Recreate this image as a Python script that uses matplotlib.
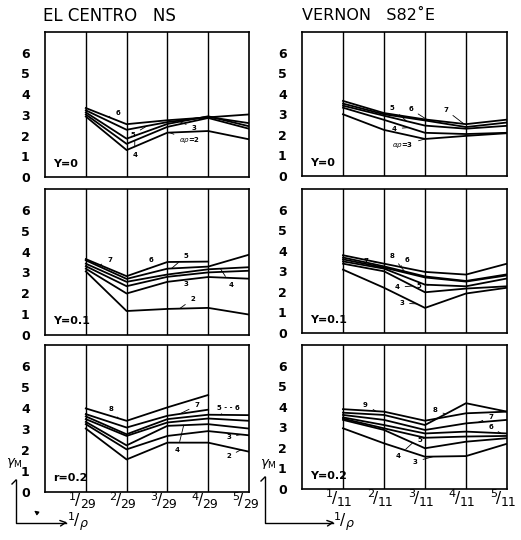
import numpy as np
import matplotlib
matplotlib.use("Agg")
import matplotlib.pyplot as plt

# periodos relativos 1/rho
x_pos = [1, 2, 3, 4, 5]
num_etiq = ['1', '2', '3', '4', '5']
den_centro = '29'
den_vernon = '11'

# El Centro NS, r = 0
centro_0 = {
    '6': [3.33, 2.55, 2.74, 2.88, 3.02],
    '5': [3.22, 2.28, 2.65, 2.90, 2.60],
    '3': [3.12, 1.85, 2.56, 2.93, 2.45],
    '4': [3.02, 1.60, 2.42, 2.85, 2.33],
    '2': [2.92, 1.30, 2.14, 2.22, 1.82],
}
# Vernon S82E, r = 0
vernon_0 = {
    '7': [3.65, 3.06, 2.75, 2.52, 2.74],
    '6': [3.52, 3.00, 2.70, 2.38, 2.60],
    '5': [3.42, 2.93, 2.45, 2.30, 2.44],
    '4': [3.32, 2.73, 2.10, 2.04, 2.10],
    '3': [3.00, 2.24, 1.80, 1.95, 2.08],
}
# El Centro NS, r = 0.1
centro_1 = {
    '6': [3.64, 2.82, 3.50, 3.52, np.nan],
    '7': [3.58, 2.69, 3.18, 3.28, 3.85],
    '5': [3.42, 2.55, 2.90, 3.15, 3.25],
    '4': [3.30, 2.34, 2.79, 3.00, 3.08],
    '3': [3.18, 1.99, 2.55, 2.78, 2.70],
    '2': [3.05, 1.15, 1.25, 1.30, 0.98],
}
# Vernon S82E, r = 0.1
vernon_1 = {
    '8': [3.78, 3.37, 2.97, 2.84, 3.37],
    '7': [3.67, 3.24, 2.75, 2.53, 2.85],
    '6': [3.58, 3.18, 2.70, 2.50, 2.80],
    '5': [3.48, 3.13, 2.35, 2.27, 2.65],
    '4': [3.37, 3.00, 1.98, 2.16, 2.27],
    '3': [3.08, 2.20, 1.22, 1.92, 2.20],
}
# El Centro NS, r = 0.2
centro_2 = {
    '8': [3.98, 3.39, 4.03, 4.62, np.nan],
    '7': [3.71, 3.07, 3.63, 3.92, np.nan],
    '6': [3.60, 2.75, 3.47, 3.68, 3.66],
    '5': [3.47, 2.67, 3.31, 3.50, 3.39],
    '4': [3.34, 2.22, 3.15, 3.23, 3.02],
    '3': [3.23, 2.03, 2.67, 2.90, 2.70],
    '2': [3.02, 1.55, 2.35, 2.35, 1.92],
}
# Vernon S82E, r = 0.2
vernon_2 = {
    '9': [3.88, 3.76, 3.32, 3.68, 3.76],
    '8': [3.71, 3.60, 3.11, 4.17, 3.76],
    '7': [3.60, 3.36, 2.87, 3.19, 3.36],
    '6': [3.48, 3.11, 2.70, 2.79, 2.70],
    '5': [3.42, 2.95, 2.49, 2.55, 2.58],
    '4': [3.36, 2.87, 1.98, 2.30, 2.47],
    '3': [2.95, 2.22, 1.57, 1.60, 2.20],
}

# (texto, serie, x sobre la curva, x del texto, y del texto)
notas_c0 = [('6', '6', 1.55, 1.78, 3.08), ('5', '5', 2.5, 2.15, 2.05), ('3', '3', 3.3, 3.65, 2.38),
            (r'$\alpha\rho$=2', '2', 3.05, 3.55, 1.78), ('4', '4', 2.2, 2.2, 1.05)]
notas_v0 = [('5', '5', 2.55, 2.2, 3.3), ('6', '7', 3.05, 2.65, 3.25), ('7', '7', 3.95, 3.5, 3.22),
            ('4', '4', 2.6, 2.25, 2.3), (r'$\alpha\rho$=3', '3', 3.0, 2.45, 1.5)]
notas_c1 = [('7', '6', 1.35, 1.58, 3.6), ('6', '6', 2.5, 2.6, 3.6), ('5', '7', 3.1, 3.45, 3.78),
            ('3', '4', 3.3, 3.45, 2.45), ('4', '5', 4.3, 4.55, 2.42), ('2', '2', 3.3, 3.62, 1.72)]
notas_v1 = [('7', '8', 1.8, 1.55, 3.48), ('8', '7', 2.5, 2.2, 3.75), ('6', '8', 2.4, 2.55, 3.55),
            ('4', '4', 2.7, 2.32, 2.22), ('5', '5', 3.1, 2.86, 2.28), ('3', '3', 2.8, 2.43, 1.45)]
notas_c2 = [('8', '8', 1.8, 1.62, 3.95), ('7', '7', 3.3, 3.72, 4.12), ('5 - - 6', '6', 4.3, 4.5, 4.0),
            ('3', '3', 4.8, 4.5, 2.6), ('2', '2', 4.8, 4.5, 1.7), ('4', '4', 3.4, 3.25, 2.0)]
notas_v2 = [('9', '9', 1.8, 1.55, 4.1), ('8', '8', 3.5, 3.25, 3.85), ('7', '7', 4.3, 4.6, 3.5),
            ('6', '6', 4.85, 4.6, 3.0), ('5', '5', 3.0, 2.88, 2.38), ('4', '4', 2.7, 2.35, 1.6),
            ('3', '3', 3.2, 2.76, 1.33)]

W, H = 521, 540
fig = plt.figure(figsize=(W / 100, H / 100), dpi=100)


def caja(x0, y0, x1, y1):
    return [x0 / W, 1 - y1 / H, (x1 - x0) / W, (y1 - y0) / H]


def fraccion(ax, xy, coords, num, den, dx=-5):
    # numerador alto, barra y denominador bajo, como en el rotulado a mano
    kw = dict(xy=xy, xycoords=coords, textcoords='offset pixels', va='center')
    ax.annotate(num, xytext=(dx - 5, -5), ha='right', fontsize=8, **kw)
    ax.annotate('/', xytext=(dx - 3, -9), ha='center', fontsize=11, **kw)
    ax.annotate(den, xytext=(dx - 1, -13), ha='left', fontsize=9, **kw)


def panel(pos, series, notas, rotulo, den=None):
    ax = fig.add_axes(pos)
    for k, v in series.items():
        ax.plot(x_pos, v, color='black', lw=1.3)
    for xv in [1, 2, 3, 4]:
        ax.axvline(xv, color='black', lw=1.0)
    for txt, s, xc, xt, yt in notas:
        yc = np.interp(xc, x_pos, series[s])
        ax.annotate(txt, xy=(xc, yc), xytext=(xt, yt), fontsize=5, fontweight='bold',
                    ha='center', va='center',
                    arrowprops=dict(arrowstyle='-', lw=0.6, color='black', shrinkA=2, shrinkB=0))
    ax.text(0.2, 0.65, rotulo, fontsize=8, fontweight='bold', va='center')
    ax.set_xlim(0, 5)
    ax.set_ylim(0, 7)
    ax.set_yticks(range(7))
    ax.set_yticklabels([str(i) for i in range(7)], fontsize=9, fontweight='bold')
    ax.tick_params(axis='y', length=0, pad=11)
    ax.set_xticks([])
    if den is not None:
        for xv, n in zip(x_pos, num_etiq):
            fraccion(ax, (xv, 0), ('data', 'axes fraction'), n, den)
    for sp in ax.spines.values():
        sp.set_linewidth(1.2)
    return ax


panel(caja(45, 32, 249, 177), centro_0, notas_c0, 'Y=0')
panel(caja(45, 189, 249, 335), centro_1, notas_c1, 'Y=0.1')
panel(caja(45, 345, 249, 492), centro_2, notas_c2, 'r=0.2', den_centro)
panel(caja(302, 32, 507, 176), vernon_0, notas_v0, 'Y=0')
panel(caja(302, 189, 507, 333), vernon_1, notas_v1, 'Y=0.1')
panel(caja(302, 345, 507, 489), vernon_2, notas_v2, 'Y=0.2', den_vernon)

fig.text(43 / W, 1 - 16 / H, 'EL CENTRO   NS', fontsize=12, va='center', ha='left')
fig.text(302 / W, 1 - 16 / H, "VERNON   S82\u02daE", fontsize=11.5, va='center', ha='left')

# ejes de referencia gamma_M contra 1/rho
eje = fig.add_axes([0, 0, 1, 1])
eje.set_xlim(0, W)
eje.set_ylim(H, 0)
eje.axis('off')
for x0, yv, x1, xr in [(16, 480, 66, 85), (265, 477, 333, 351)]:
    eje.plot([x0, x0, x1], [yv, 523, 523], color='black', lw=1.0)
    eje.plot([x0 - 4, x0], [yv + 4, yv], color='black', lw=1.0)
    eje.annotate('', xy=(x1 + 4, 522), xytext=(x1 - 4, 523),
                 arrowprops=dict(arrowstyle='->', lw=1.0, color='black'))
    fraccion(eje, (xr, 512), 'data', '1', r'$\rho$')
eje.text(6, 463, r'$\gamma_{\rm M}$', fontsize=9.5, fontweight='bold', va='center', ha='left')
eje.text(260, 464, r'$\gamma_{\rm M}$', fontsize=9.5, fontweight='bold', va='center', ha='left')
eje.annotate('', xy=(32, 509), xytext=(40, 515),
             arrowprops=dict(arrowstyle='-|>', lw=0.8, color='black', mutation_scale=6))

fig.savefig('out.png', dpi=100)
